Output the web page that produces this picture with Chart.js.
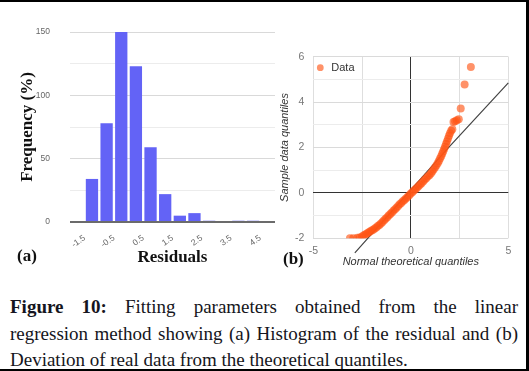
<!DOCTYPE html>
<html>
<head>
<meta charset="utf-8">
<title>Figure 10</title>
<script src="https://cdn.jsdelivr.net/npm/chart.js@4.4.0/dist/chart.umd.min.js"></script>
<style>
  html, body { margin:0; padding:0; background:#fff; }
  #page { position:relative; width:529px; height:371px; overflow:hidden; background:#fff; }
  #frame { position:absolute; left:0; top:0; width:529px; height:371px; box-sizing:border-box; border:2px solid #000; border-left:none; border-right-width:3px; }
  #hist { position:absolute; left:0; top:0; }
  #qq { position:absolute; left:276px; top:0; }
  .tag { position:absolute; font:bold 17px 'Liberation Serif', 'Times New Roman', serif; color:#111; line-height:20px; }
  #caption { position:absolute; left:10px; top:294px; width:508px; font:19px 'Liberation Serif', 'Times New Roman', serif; line-height:26.5px; color:#151520; }
  #caption div { text-align:justify; white-space:nowrap; }
  #caption .full { text-align-last:justify; white-space:normal; }
</style>
</head>
<body>
<div id="page">
  <canvas id="hist" width="280" height="272"></canvas>
  <canvas id="qq" width="250" height="272"></canvas>
  <div class="tag" style="left:17px; top:246px;">(a)</div>
  <div class="tag" style="left:283px; top:249px;">(b)</div>
  <div id="caption">
    <div class="full"><b>Figure 10:</b> Fitting parameters obtained from the linear</div>
    <div class="full">regression method showing (a) Histogram of the residual and (b)</div>
    <div>Deviation of real data from the theoretical quantiles.</div>
  </div>
  <div id="frame"></div>
</div>
<script>
// histogram of residuals (bins of width 0.5)
var binCenters = [-1.25, -0.75, -0.25, 0.25, 0.75, 1.25, 1.75, 2.25, 2.75, 3.25, 3.75, 4.25];
var frequency  = [34, 78, 150, 123, 59, 22, 5, 7, 1, 0, 1, 1];
var histTicks  = [-1.5, -0.5, 0.5, 1.5, 2.5, 3.5, 4.5];

// normal Q-Q plot points
var qqX = [-3.12, -2.95, -2.74, -2.62, -2.50, -2.41, -2.33, -2.25, -2.17, -2.09, -2.01, -1.93, -1.85, -1.77,
  -1.69, -1.61, -1.53, -1.45, -1.37, -1.29, -1.21, -1.13, -1.05, -0.97, -0.89, -0.81, -0.73, -0.65, -0.57,
  -0.49, -0.41, -0.33, -0.25, -0.17, -0.09, -0.01, 0.07, 0.15, 0.23, 0.31, 0.39, 0.47, 0.55, 0.63, 0.71,
  0.79, 0.87, 0.95, 1.03, 1.10, 1.17, 1.24, 1.31, 1.38, 1.44, 1.50, 1.56, 1.61, 1.66, 1.71, 1.76, 1.81,
  1.86, 1.91, 1.96, 2.01, 2.07, 2.13, 2.19, 2.27, 2.36, 2.46, 2.56, 2.76, 3.08];
var qqY = [-2.00, -2.00, -1.98, -1.96, -1.92, -1.87, -1.83, -1.79, -1.74, -1.70, -1.66, -1.62, -1.57, -1.52,
  -1.46, -1.41, -1.35, -1.28, -1.21, -1.14, -1.07, -1.00, -0.93, -0.86, -0.79, -0.72, -0.65, -0.58, -0.50,
  -0.44, -0.37, -0.31, -0.25, -0.18, -0.11, -0.04, 0.03, 0.10, 0.16, 0.22, 0.29, 0.36, 0.43, 0.50, 0.58,
  0.65, 0.72, 0.78, 0.86, 0.94, 1.03, 1.12, 1.21, 1.31, 1.41, 1.51, 1.61, 1.72, 1.82, 1.93, 2.04, 2.16,
  2.28, 2.40, 2.52, 2.63, 2.74, 2.80, 3.12, 3.16, 3.20, 3.24, 3.72, 4.77, 5.55];

// reference line
var refX = [-2.87, 1.92, 5];
var refY = [-2.64, 1.98, 4.85];

Chart.defaults.font.family = "'Liberation Sans', Arial, sans-serif";
Chart.defaults.animation = false;

var histChart = new Chart(document.getElementById('hist'), {
  type: 'bar',
  data: {
    datasets: [{
      data: binCenters.map(function (x, i) { return {x: x, y: frequency[i]}; }),
      backgroundColor: '#6363f6',
      categoryPercentage: 1,
      barPercentage: 0.84
    }]
  },
  options: {
    responsive: false,
    layout: {padding: {left: 0, right: 5, top: 32, bottom: 0}},
    plugins: {legend: {display: false}, tooltip: {enabled: false}},
    scales: {
      x: {
        type: 'linear', min: -2, max: 5, offset: false,
        grid: {display: false, drawTicks: false},
        border: {display: false},
        afterBuildTicks: function (s) { s.ticks = histTicks.map(function (v) { return {value: v}; }); },
        afterFit: function (s) { s.height = 50; },
        ticks: {minRotation: 35, maxRotation: 35, padding: 11, color: '#666', font: {size: 8.5},
          callback: function (v) { return String(v); }},
        title: {display: true, text: 'Residuals', color: '#111',
          font: {family: "'Liberation Serif', serif", size: 17, weight: 'bold'},
          padding: {top: 0, bottom: 4}}
      },
      y: {
        min: 0, max: 150,
        afterFit: function (s) { s.width = 70; },
        border: {display: false},
        grid: {
          drawTicks: false,
          color: function (c) { return c.tick.value === 0 ? '#6b6b6b' : (c.tick.value % 50 === 0 ? '#d9d9d9' : '#ececec'); },
          lineWidth: function (c) { return c.tick.value === 0 ? 2 : 1; }
        },
        ticks: {stepSize: 25, padding: 20, color: '#666', font: {size: 8.5},
          callback: function (v) { return v % 50 === 0 ? v : ''; }},
        title: {display: true, text: 'Frequency (%)', color: '#111',
          font: {family: "'Liberation Serif', serif", size: 17, weight: 'bold'},
          padding: {top: 17, bottom: 0}}
      }
    }
  }
});

// the legend sits inside the plot area, just under its top edge
var legendInArea = {
  id: 'legendInArea',
  afterLayout: function (chart) {
    if (chart.legend) {
      chart.legend.top = chart.chartArea.top + 4;
      chart.legend.bottom = chart.chartArea.bottom;
    }
  }
};

var qqChart = new Chart(document.getElementById('qq'), {
  type: 'scatter',
  data: {
    datasets: [{
      label: 'Data',
      data: qqX.map(function (x, i) { return {x: x, y: qqY[i]}; }),
      backgroundColor: 'rgba(255,84,20,0.64)',
      borderWidth: 0,
      pointRadius: 4
    }, {
      label: 'Normal',
      data: refX.map(function (x, i) { return {x: x, y: refY[i]}; }),
      showLine: true,
      borderColor: '#444',
      borderWidth: 1.2,
      pointRadius: 0,
      clip: false
    }]
  },
  plugins: [legendInArea],
  options: {
    responsive: false,
    layout: {padding: {left: 0, right: 17.7, top: 56.7, bottom: 0}},
    plugins: {
      tooltip: {enabled: false},
      legend: {
        position: 'chartArea', align: 'start',
        labels: {usePointStyle: true, pointStyle: 'circle', boxWidth: 11, boxHeight: 4.8, padding: 1.5,
          color: '#333', font: {size: 11},
          filter: function (item) { return item.datasetIndex === 0; }}
      }
    },
    scales: {
      x: {
        type: 'linear', min: -5, max: 5,
        afterFit: function (s) { s.height = 33.7; },
        border: {display: false},
        grid: {drawTicks: false,
          color: function (c) { return c.tick.value === 0 ? '#333' : '#dedede'; }},
        ticks: {stepSize: 2.5, maxRotation: 0, padding: 7, color: '#777', font: {size: 10.5},
          callback: function (v) { return v % 5 === 0 ? v : ''; }},
        title: {display: true, text: 'Normal theoretical quantiles', color: '#333',
          font: {size: 11, style: 'italic'}, padding: {top: 0, bottom: 3.4}}
      },
      y: {
        min: -2, max: 6,
        afterFit: function (s) { s.width = 37.3; },
        border: {display: false},
        grid: {drawTicks: false,
          color: function (c) { return c.tick.value === 0 ? '#333' : (c.tick.value % 2 === 0 ? '#dadada' : '#ececec'); }},
        ticks: {stepSize: 1, padding: 9, color: '#777', font: {size: 10.5},
          callback: function (v) { return v % 2 === 0 ? v : ''; }},
        title: {display: true, text: 'Sample data quantiles', color: '#333',
          font: {size: 11, style: 'italic'}, padding: {top: 2.4, bottom: 0}}
      }
    }
  }
});
</script>
</body>
</html>
